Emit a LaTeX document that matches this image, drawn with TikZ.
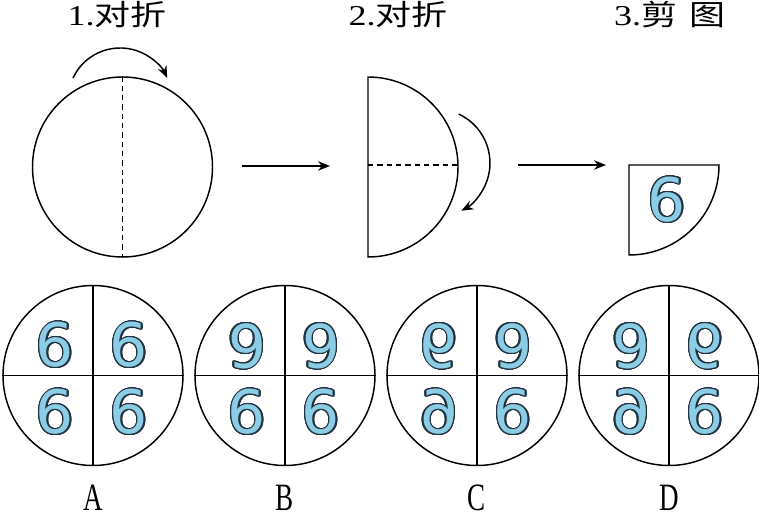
\documentclass[tikz,border=0pt]{standalone}
\usepackage{fontspec}
\usepackage{contour}
\setmainfont{Liberation Serif}
\newfontfamily\cjk{Noto Sans CJK SC}
\newfontfamily\sixfont{DejaVu Sans}
\usetikzlibrary{arrows.meta}

\definecolor{sixfill}{RGB}{140,205,230}
\definecolor{sixline}{RGB}{35,50,65}
\contourlength{0.9pt}
\contournumber{24}
\newcommand{\sixglyph}{{\sixfont\color{sixfill}\contour{sixline}{6}}}

\begin{document}
\begin{tikzpicture}[x=0.75pt,y=0.75pt,line width=1.1pt]
  \tikzstyle{disc}=[circle,draw,minimum size=135pt,inner sep=0pt]
  \tikzstyle{digit}=[font=\fontsize{45}{45}\selectfont,inner sep=0pt]
  \tikzstyle{title}=[font=\fontsize{27}{27}\selectfont,inner sep=0pt,yscale=0.8]
  \tikzstyle{lab}=[font=\fontsize{29}{29}\selectfont,inner sep=0pt,xscale=0.7]
  \tikzstyle{flow}=[-{Stealth[length=9pt,width=7pt]}]
  \tikzstyle{fold}=[-{Stealth[length=9pt,width=7pt]}]
  \tikzstyle{crease}=[dash pattern=on 4pt off 3pt]
  \useasboundingbox (0,0) rectangle (759,518);

  % titles
  \node[title] (t1) at (117,503) {1.{\cjk 对折}};
  \node[title] (t2) at (398,503) {2.{\cjk 对折}};
  \node[title] (t3) at (670,503) {3.{\cjk 剪\hspace{0.35em}图}};

  % step 1
  \node[disc] (c1) at (122.5,351) {};
  \draw[crease] (c1.north) -- (c1.south);
  \draw[fold] (73,440) arc[start angle=155,end angle=25,radius=52];
  \coordinate (p1) at (242,352);
  \coordinate (q1) at (330,352);
  \draw[flow] (p1) -- (q1);

  % step 2
  \draw (368,441) -- (368,261) arc[start angle=-90,end angle=90,radius=90] -- cycle;
  \coordinate (h1) at (368,353);
  \coordinate (h2) at (458,353);
  \draw[crease] (h1) -- (h2);
  \draw[fold] (458.8,403.9) arc[start angle=65,end angle=-62,radius=54];
  \coordinate (p2) at (518,353);
  \coordinate (q2) at (606,353);
  \draw[flow] (p2) -- (q2);

  % step 3
  \draw (629,353) -- (719,353) arc[start angle=0,end angle=-90,radius=90] -- cycle;
  \node[digit] (s0) at (667,318) {\sixglyph};

  % answers
  \node[disc] (cA) at (93,142.5) {};
  \node[disc] (cB) at (285,142.5) {};
  \node[disc] (cC) at (477,142.5) {};
  \node[disc] (cD) at (669,142.5) {};
  \draw (cA.north) -- (cA.south);
  \draw (cA.west) -- (cA.east);
  \draw (cB.north) -- (cB.south);
  \draw (cB.west) -- (cB.east);
  \draw (cC.north) -- (cC.south);
  \draw (cC.west) -- (cC.east);
  \draw (cD.north) -- (cD.south);
  \draw (cD.west) -- (cD.east);

  \node[digit] (a1) at (55,172.5) {\sixglyph};
  \node[digit] (a2) at (129,172.5) {\sixglyph};
  \node[digit] (a3) at (55,105.5) {\sixglyph};
  \node[digit] (a4) at (129,105.5) {\sixglyph};

  \node[digit,rotate=180] (b1) at (247,172.5) {\sixglyph};
  \node[digit,rotate=180] (b2) at (321,172.5) {\sixglyph};
  \node[digit] (b3) at (247,105.5) {\sixglyph};
  \node[digit] (b4) at (321,105.5) {\sixglyph};

  \node[digit,yscale=-1] (c1d) at (439,172.5) {\sixglyph};
  \node[digit,rotate=180] (c2d) at (513,172.5) {\sixglyph};
  \node[digit,xscale=-1] (c3d) at (439,105.5) {\sixglyph};
  \node[digit] (c4d) at (513,105.5) {\sixglyph};

  \node[digit,rotate=180] (d1) at (631,172.5) {\sixglyph};
  \node[digit,yscale=-1] (d2) at (705,172.5) {\sixglyph};
  \node[digit,xscale=-1] (d3) at (631,105.5) {\sixglyph};
  \node[digit] (d4) at (705,105.5) {\sixglyph};

  \node[lab] (lA) at (93,20) {A};
  \node[lab] (lB) at (285,20) {B};
  \node[lab] (lC) at (477,20) {C};
  \node[lab] (lD) at (669,20) {D};
\end{tikzpicture}
\end{document}
